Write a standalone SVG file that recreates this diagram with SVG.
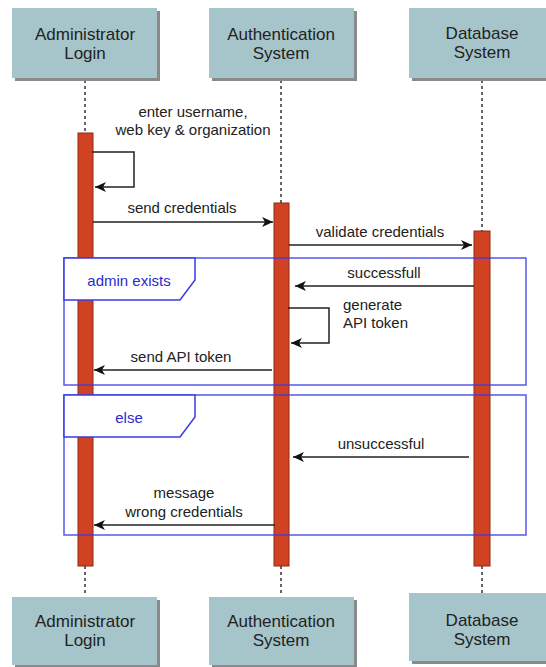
<svg xmlns="http://www.w3.org/2000/svg" width="546" height="667" viewBox="0 0 546 667">
<style>
.box{fill:#a6c5ca;}
.shadow{fill:#8a8a8a;}
.hdr{font-family:"Liberation Sans",Arial,sans-serif;font-size:17px;fill:#222;text-anchor:middle;}
.life{stroke:#333;stroke-width:1.5;stroke-dasharray:3,3;fill:none;}
.bar{fill:#d04222;stroke:#8e2a14;stroke-width:1;}
.msg{stroke:#222;stroke-width:1.5;fill:none;marker-end:url(#arr);}
.lbl{font-family:"Liberation Sans",Arial,sans-serif;font-size:15px;fill:#222;}
.frame{fill:none;stroke:#3a3ae6;stroke-width:1.5;stroke-opacity:0.85;}
.tab{fill:#fff;stroke:#3a3ae6;stroke-width:1.5;}
.ftxt{font-family:"Liberation Sans",Arial,sans-serif;font-size:15px;fill:#2a2ad0;text-anchor:middle;}
</style>
<defs>
<marker id="arr" markerWidth="12" markerHeight="10" refX="11" refY="5" orient="auto" markerUnits="userSpaceOnUse">
<path d="M0,0 L11,5 L0,10 L3,5 Z" fill="#111"/>
</marker>
</defs>
<rect width="546" height="667" fill="#fff"/>
<g id="lifelines">
<line class="life" x1="85" y1="80" x2="85" y2="596"/>
<line class="life" x1="281" y1="80" x2="281" y2="596"/>
<line class="life" x1="482" y1="80" x2="482" y2="593"/>
</g>
<g id="admin-top">
<rect class="shadow" x="15" y="11" width="145" height="70"/>
<rect class="box" x="12" y="8" width="145" height="70"/>
<text class="hdr" x="85" y="40">Administrator</text>
<text class="hdr" x="85" y="59">Login</text>
</g>
<g id="auth-top">
<rect class="shadow" x="212" y="11" width="145" height="70"/>
<rect class="box" x="209" y="8" width="145" height="70"/>
<text class="hdr" x="281" y="40">Authentication</text>
<text class="hdr" x="281" y="59">System</text>
</g>
<g id="db-top">
<rect class="shadow" x="412" y="11" width="145" height="70"/>
<rect class="box" x="409" y="8" width="145" height="70"/>
<text class="hdr" x="482" y="39">Database</text>
<text class="hdr" x="482" y="58">System</text>
</g>
<g id="admin-bottom">
<rect class="shadow" x="15" y="600" width="145" height="68"/>
<rect class="box" x="12" y="597" width="145" height="68"/>
<text class="hdr" x="85" y="627">Administrator</text>
<text class="hdr" x="85" y="646">Login</text>
</g>
<g id="auth-bottom">
<rect class="shadow" x="212" y="600" width="145" height="68"/>
<rect class="box" x="209" y="597" width="145" height="68"/>
<text class="hdr" x="281" y="627">Authentication</text>
<text class="hdr" x="281" y="646">System</text>
</g>
<g id="db-bottom">
<rect class="shadow" x="412" y="596" width="145" height="68"/>
<rect class="box" x="409" y="593" width="145" height="68"/>
<text class="hdr" x="482" y="626">Database</text>
<text class="hdr" x="482" y="645">System</text>
</g>
<g id="activations">
<rect class="bar" x="78" y="133" width="15" height="433"/>
<rect class="bar" x="274" y="203" width="15" height="363"/>
<rect class="bar" x="474" y="231" width="16" height="335"/>
</g>
<g id="connectors">
<path class="msg" d="M92,152 H134 V187 H95"/>
<path class="msg" d="M93,222 H273"/>
<path class="msg" d="M289,245 H472"/>
<path class="msg" d="M474,286 H295"/>
<path class="msg" d="M288,308 H329 V343 H291"/>
<path class="msg" d="M272,370 H94"/>
<path class="msg" d="M469,457 H293"/>
<path class="msg" d="M275,525 H94"/>
</g>
<g id="labels">
<text class="lbl" x="193" y="117" text-anchor="middle">enter username,</text>
<text class="lbl" x="193" y="135" text-anchor="middle">web key &amp; organization</text>
<text class="lbl" x="182" y="213" text-anchor="middle">send credentials</text>
<text class="lbl" x="380" y="237" text-anchor="middle">validate credentials</text>
<text class="lbl" x="384" y="278" text-anchor="middle">successfull</text>
<text class="lbl" x="343" y="310">generate</text>
<text class="lbl" x="343" y="328">API token</text>
<text class="lbl" x="181" y="362" text-anchor="middle">send API token</text>
<text class="lbl" x="381" y="449" text-anchor="middle">unsuccessful</text>
<text class="lbl" x="184" y="498" text-anchor="middle">message</text>
<text class="lbl" x="184" y="517" text-anchor="middle">wrong credentials</text>
</g>
<g id="frame-admin-exists">
<rect class="frame" x="64" y="258" width="462" height="127"/>
<path class="tab" d="M64,258 H195 V280 L180,300 H64 Z"/>
<text class="ftxt" x="129" y="286">admin exists</text>
</g>
<g id="frame-else">
<rect class="frame" x="64" y="395" width="462" height="140"/>
<path class="tab" d="M64,395 H195 V417 L180,437 H64 Z"/>
<text class="ftxt" x="129" y="423">else</text>
</g>
</svg>
